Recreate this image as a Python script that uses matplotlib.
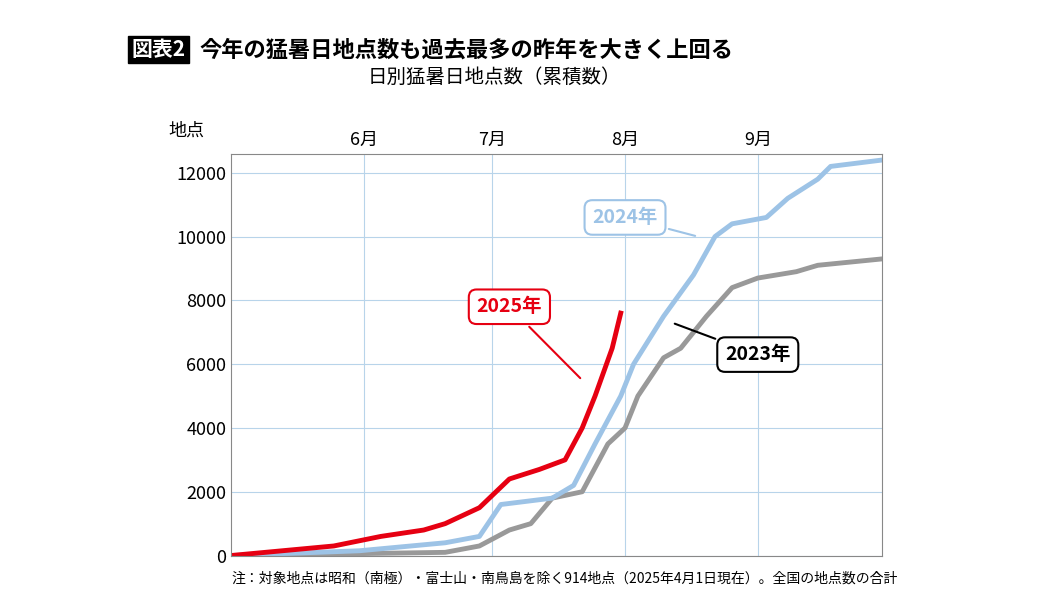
import matplotlib
matplotlib.use("Agg")
import matplotlib.pyplot as plt
import matplotlib.dates as mdates
import pandas as pd

plt.rcParams['font.family'] = ['Noto Sans CJK JP', 'DejaVu Sans']

d2025 = ["2025-05-01","2025-05-25","2025-06-05","2025-06-15","2025-06-20","2025-06-28","2025-07-05","2025-07-12","2025-07-18","2025-07-22","2025-07-25","2025-07-29","2025-07-31"]
v2025 = [0,300,600,800,1000,1500,2400,2700,3000,4000,5000,6500,7600]
d2024 = ["2025-05-01","2025-05-31","2025-06-20","2025-06-28","2025-07-03","2025-07-15","2025-07-20","2025-07-25","2025-07-31","2025-08-03","2025-08-10","2025-08-17","2025-08-22","2025-08-26","2025-09-03","2025-09-08","2025-09-15","2025-09-18","2025-09-30"]
v2024 = [0,150,400,600,1600,1800,2200,3500,5000,6000,7500,8800,10000,10400,10600,11200,11800,12200,12400]
d2023 = ["2025-05-01","2025-06-20","2025-06-28","2025-07-05","2025-07-10","2025-07-15","2025-07-22","2025-07-28","2025-08-01","2025-08-04","2025-08-10","2025-08-14","2025-08-20","2025-08-26","2025-09-01","2025-09-10","2025-09-15","2025-09-30"]
v2023 = [0,100,300,800,1000,1800,2000,3500,4000,5000,6200,6500,7500,8400,8700,8900,9100,9300]
yticks = [0,2000,4000,6000,8000,10000,12000]
months = ["6月","7月","8月","9月"]

fig = plt.figure(figsize=(10.5,5.91), dpi=100)
ax = fig.add_axes([0.22,0.06,0.62,0.68])
ax.plot(pd.to_datetime(d2023), v2023, color="#999999", lw=3.5)
ax.plot(pd.to_datetime(d2024), v2024, color="#9dc3e6", lw=3.5)
ax.plot(pd.to_datetime(d2025), v2025, color="#e60012", lw=3.5)
ax.set_xlim(pd.Timestamp("2025-05-01"), pd.Timestamp("2025-09-30"))
ax.set_ylim(0,12600)
ax.set_yticks(yticks)
ax.set_yticklabels([str(t) for t in yticks], fontsize=13)
mt = pd.to_datetime(["2025-06-01","2025-07-01","2025-08-01","2025-09-01"])
ax.set_xticks(mt)
ax.set_xticklabels(months, fontsize=13)
ax.xaxis.tick_top()
ax.tick_params(length=0)
ax.grid(True, color="#b8d4ea", lw=0.8)
for s in ax.spines.values():
    s.set_color("#888888"); s.set_linewidth(0.8)

fig.text(0.125,0.905,"図表2", fontsize=15, fontweight="bold", color="white",
         bbox=dict(boxstyle="square,pad=0.15", fc="black", ec="black"))
fig.text(0.19,0.905,"今年の猛暑日地点数も過去最多の昨年を大きく上回る", fontsize=16, fontweight="bold")
fig.text(0.35,0.86,"日別猛暑日地点数（累積数）", fontsize=14)
fig.text(0.16,0.77,"地点", fontsize=13)

def callout(x, y, txt, col, tx, ty):
    ax.annotate(txt, xy=(pd.Timestamp(x), y), xytext=(pd.Timestamp(tx), ty),
                fontsize=14, fontweight="bold", color=col if col != "#999999" else "black",
                ha="center", va="center",
                bbox=dict(boxstyle="round,pad=0.4", fc="white", ec=col if col != "#999999" else "black", lw=1.5),
                arrowprops=dict(arrowstyle="-", color=col if col != "#999999" else "black", lw=1.5))
callout("2025-07-22", 5500, "2025年", "#e60012", "2025-07-05", 7800)
callout("2025-08-18", 10000, "2024年", "#9dc3e6", "2025-08-01", 10600)
callout("2025-08-12", 7300, "2023年", "#999999", "2025-09-01", 6300)

fig.text(0.22,0.015,"注：対象地点は昭和（南極）・富士山・南鳥島を除く914地点（2025年4月1日現在）。全国の地点数の合計", fontsize=10)
fig.savefig("out.png", dpi=100, facecolor="white")
